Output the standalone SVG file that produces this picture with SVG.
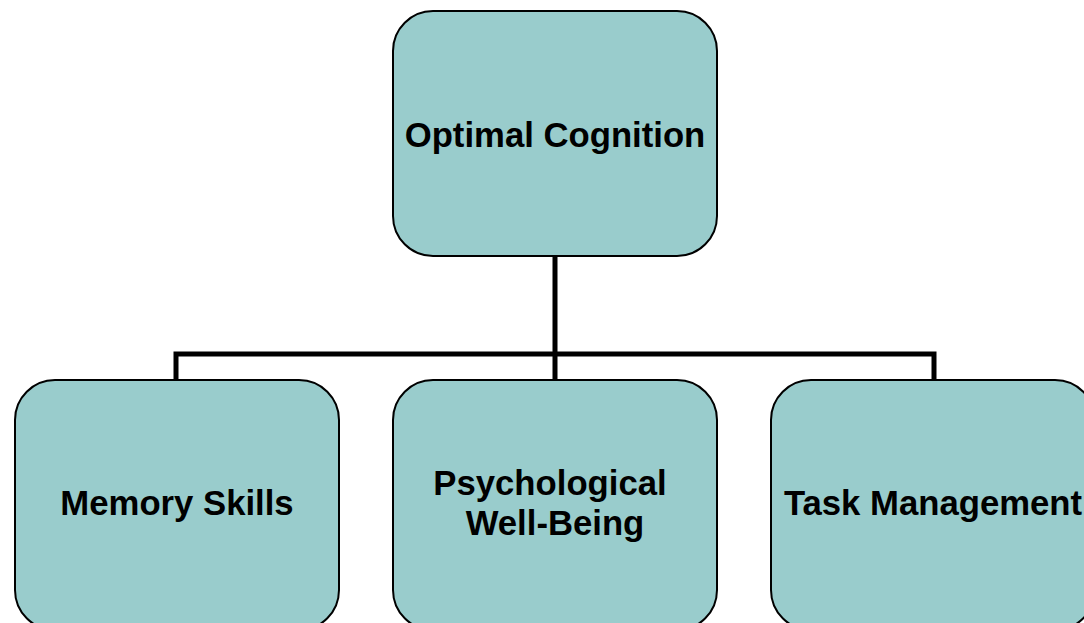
<svg xmlns="http://www.w3.org/2000/svg" width="1084" height="623" viewBox="0 0 1084 623">
<style>
.box{fill:#99CCCC;stroke:#000;stroke-width:2}
.lbl{font-family:"Liberation Sans",Arial,sans-serif;font-weight:bold;font-size:34.7px;fill:#000;text-anchor:middle}
.conn{fill:none;stroke:#000;stroke-width:5}
</style>
<rect width="1084" height="623" fill="#fff"/>
<g id="connectors">
<path class="conn" d="M555,256 V354 M176,380 V354 H934 V380 M555,354 V380"/>
</g>
<g id="optimal-cognition">
<rect class="box" x="393" y="11" width="324" height="245" rx="40"/>
<text class="lbl" x="555" y="147">Optimal Cognition</text>
</g>
<g id="memory-skills">
<rect class="box" x="15" y="380" width="324" height="250" rx="40"/>
<text class="lbl" x="177" y="515">Memory Skills</text>
</g>
<g id="psychological-well-being">
<rect class="box" x="393" y="380" width="324" height="250" rx="40"/>
<text class="lbl" x="550" y="495">Psychological</text>
<text class="lbl" x="555" y="535">Well-Being</text>
</g>
<g id="task-management">
<rect class="box" x="771" y="380" width="324" height="250" rx="40"/>
<text class="lbl" x="933" y="515">Task Management</text>
</g>
</svg>
